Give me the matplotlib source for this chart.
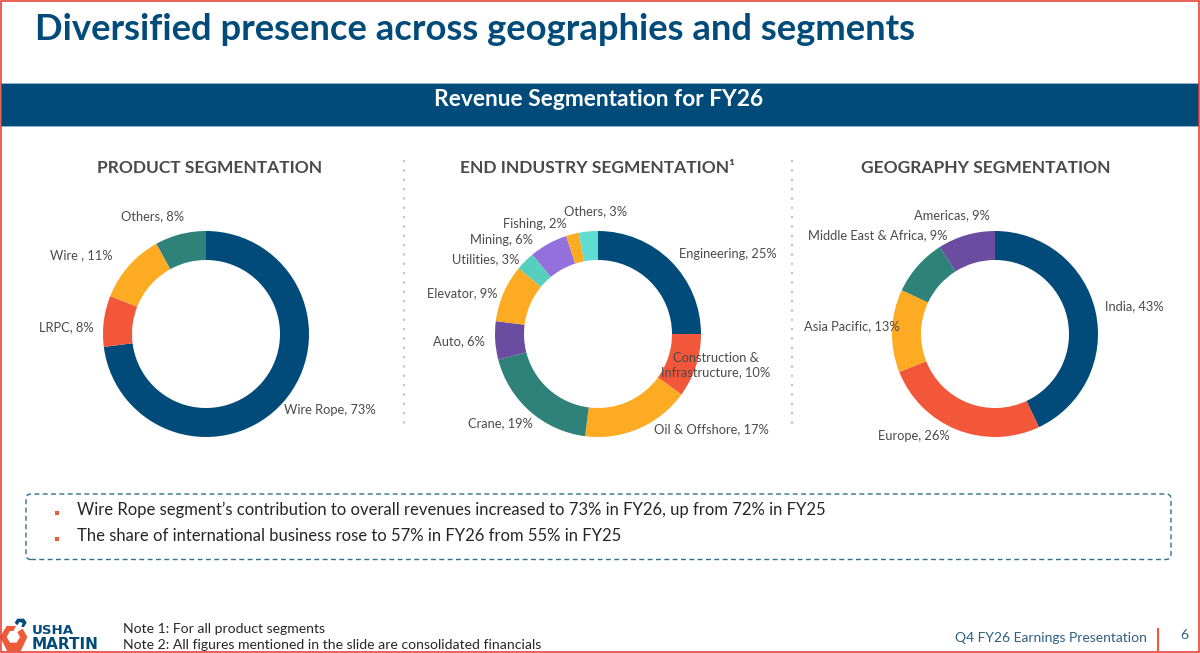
import matplotlib
matplotlib.use("Agg")
import matplotlib.pyplot as plt
from matplotlib.patches import Rectangle, FancyBboxPatch, Polygon

W, H = 1200, 653
NAVY = "#014B7A"; RED = "#F2573A"; AMBER = "#FDAB22"; TEAL = "#2E8279"
PURPLE = "#6A4CA0"; MINT = "#56CFBE"; VIOLET = "#9370DB"; CYAN = "#5EDDD0"
GREY = "#4A4A4A"; DARK = "#262626"

product_labels = ["Wire Rope", "LRPC", "Wire ", "Others"]
product_values = [73, 8, 11, 8]
product_colors = [NAVY, RED, AMBER, TEAL]

industry_labels = ["Engineering", "Construction &\nInfrastructure", "Oil & Offshore", "Crane", "Auto",
                   "Elevator", "Utilities", "Mining", "Fishing", "Others"]
industry_values = [25, 10, 17, 19, 6, 9, 3, 6, 2, 3]
industry_colors = [NAVY, RED, AMBER, TEAL, PURPLE, AMBER, MINT, VIOLET, AMBER, CYAN]

geo_labels = ["India", "Europe", "Asia Pacific", "Middle East & Africa", "Americas"]
geo_values = [43, 26, 13, 9, 9]
geo_colors = [NAVY, RED, AMBER, TEAL, PURPLE]

plt.rcParams["font.family"] = ["Lato", "DejaVu Sans"]
fig = plt.figure(figsize=(W / 100, H / 100), dpi=100, facecolor="white")
ax = fig.add_axes([0, 0, 1, 1])


def Y(y):
    return H - y


def T(x, y, s, size, color=GREY, weight="normal", ha="left", va="center", **kw):
    return ax.text(x, Y(y), s, fontsize=size, color=color, fontweight=weight, ha=ha, va=va, **kw)


def donut(cx, cy, values, colors, labels, positions, radius=103, width=29):
    ax.pie(values, colors=colors, startangle=90, counterclock=False, radius=radius,
           center=(cx, Y(cy)), wedgeprops=dict(width=width, linewidth=0), frame=True)
    for lab, val, (x, y) in zip(labels, values, positions):
        T(x, y, f"{lab}, {val}%", 9.3, ha="center", linespacing=1.15, zorder=5)


def logo_pts(pts):
    return [(x / 3, Y(612 + y / 3)) for x, y in pts]


# header
T(35, 40, "Diversified presence across geographies and segments", 26.2, NAVY, "bold", va="baseline")
ax.add_patch(Rectangle((1, Y(126.5)), W - 2, 43.5, fc="#8DB4D2", ec="none"))
ax.add_patch(Rectangle((1, Y(126)), W - 2, 42.5, fc=NAVY, ec="none"))
T(599, 106.5, "Revenue Segmentation for FY26", 16.4, "white", "bold", ha="center", va="baseline")

# section titles
T(210, 173, "PRODUCT SEGMENTATION", 12.5, GREY, "bold", ha="center", va="baseline")
T(598, 173, "END INDUSTRY SEGMENTATION\u00b9", 12.5, GREY, "bold", ha="center", va="baseline")
T(986, 173, "GEOGRAPHY SEGMENTATION", 12.5, GREY, "bold", ha="center", va="baseline")

# dotted separators
for x in (404, 792):
    ax.plot([x, x], [Y(160), Y(428)], color="#C4C4C4", lw=1.6, ls=(0, (1, 3.2)))

# donuts
donut(206, 334, product_values, product_colors, product_labels,
      [(330, 410), (66, 327), (81, 255), (153, 216)])
donut(598, 334, industry_values, industry_colors, industry_labels,
      [(728, 254), (716, 365), (711, 429), (500, 423), (459, 341),
       (462, 293), (486, 259), (502, 240), (535, 224), (596, 211)])
donut(995, 334, geo_values, geo_colors, geo_labels,
      [(1134, 306), (914, 436), (852, 326), (878, 235), (952, 215)])

# callout box
ax.add_patch(FancyBboxPatch((26, Y(559.5)), 1145, 65.5, boxstyle="round,pad=0,rounding_size=5",
                            fc="none", ec="#2F6E8E", lw=1, ls=(0, (3.5, 2.5))))
for y, s in [(509, "Wire Rope segment\u2019s contribution to overall revenues increased to 73% in FY26, up from 72% in FY25"),
             (535, "The share of international business rose to 57% in FY26 from 55% in FY25")]:
    ax.add_patch(Rectangle((55, Y(y + 6)), 4, 4, fc=RED, ec="none"))
    T(77, y + 1, s, 12, DARK)

# footer notes
T(123, 629, "Note 1: For all product segments", 10.1, DARK)
T(123, 645, "Note 2: All figures mentioned in the slide are consolidated financials", 10.1, DARK)
T(1147, 638.5, "Q4 FY26 Earnings Presentation", 10, "#2F5F80", ha="right")
ax.plot([1158, 1158], [Y(629), Y(650)], color=RED, lw=1.5)
T(1184, 635, "6", 10, "#2F5F80", ha="center")

# logo
ax.add_patch(Polygon(logo_pts([(0, 75), (20, 42), (48, 42), (40, 57), (30, 57), (20, 75), (30, 92), (50, 92),
                               (60, 75), (52, 60), (68, 50), (82, 75), (62, 118), (22, 118)]),
                     fc="#EE5A3A", ec="none"))
ax.add_patch(Polygon(logo_pts([(44, 32), (52, 20), (72, 20), (80, 32), (72, 45), (64, 45), (68, 33), (58, 30), (52, 40)]),
                     fc=NAVY, ec="none"))
T(32, 634, "USHA", 9.6, NAVY, "bold", va="baseline", family=["DejaVu Sans"])
T(32, 649, "MARTIN", 11, NAVY, "bold", va="baseline", family=["DejaVu Sans"])

# slide border
ax.add_patch(Rectangle((0.75, 0.75), W - 1.5, H - 1.5, fc="none", ec="#E5352B", lw=1.1, zorder=10))

ax.set_xlim(0, W)
ax.set_ylim(0, H)
ax.set_aspect("auto")
ax.axis("off")
fig.savefig("out.png", dpi=100, facecolor="white")
